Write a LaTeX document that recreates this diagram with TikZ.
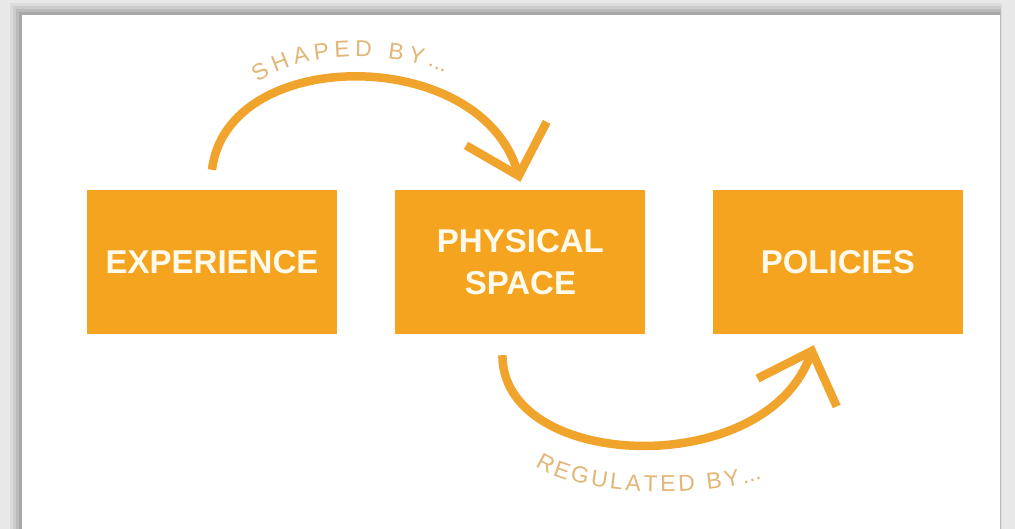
\documentclass[tikz,border=0pt]{standalone}
\usepackage{fontspec}
\setmainfont{Liberation Sans}
\usetikzlibrary{positioning}
\usetikzlibrary{arrows.meta}
\usetikzlibrary{decorations.text}

\definecolor{boxorange}{RGB}{245,164,32}
\definecolor{arroworange}{RGB}{240,164,44}
\definecolor{labeltan}{RGB}{226,182,118}
\definecolor{creamtext}{RGB}{255,250,236}

\tikzset{
  stage/.style={fill=boxorange, text=creamtext, minimum width=250pt, minimum height=144pt,
    inner sep=0, align=center, font=\bfseries\fontsize{33}{42}\selectfont},
  flow/.style={arroworange, line width=8.5pt, -{Straight Barb[length=44pt,width=84pt]}},
  curvelabel/.style={decorate, decoration={text along path, text align={fit to path},
    text color=labeltan, text={|\fontsize{23}{27}\selectfont|#1}}}
}

\begin{document}
\begin{tikzpicture}[x=1pt,y=1pt]
\useasboundingbox (0,0) rectangle (1015,529);
% frame with soft shadow
\fill[black!9] (0,0) rectangle (1015,529);
\foreach \d/\c in {12/14,9/20,6/27,3/34} {
 \fill[black!\c] (22-\d,0) rectangle (1000+\d*0.15,514+\d);
}
\fill[white] (22,0) rectangle (1000,514);

% stages
\node[stage] (exp) at (212,267) {EXPERIENCE};
\node[stage, right=58pt of exp] (phys) {PHYSICAL\\SPACE};
\node[stage, right=67pt of phys] (pol) {POLICIES};

% arrows
\draw[flow] ([yshift=20pt]exp.north) .. controls +(15,125) and +(-40,137) .. ([yshift=8pt]phys.north);
\draw[flow] ([xshift=-18pt,yshift=-21pt]phys.south) .. controls +(0,-116) and +(-48,-136) .. ([xshift=-24pt,yshift=-11pt]pol.south);

% curved labels
\path[curvelabel={SHAPED BY{...}}] (258,446) .. controls (300,480) and (400,478) .. (445,456);
\path[curvelabel={REGULATED BY{...}}] (535,63) .. controls (580,33) and (700,30) .. (762,50);
\end{tikzpicture}
\end{document}
